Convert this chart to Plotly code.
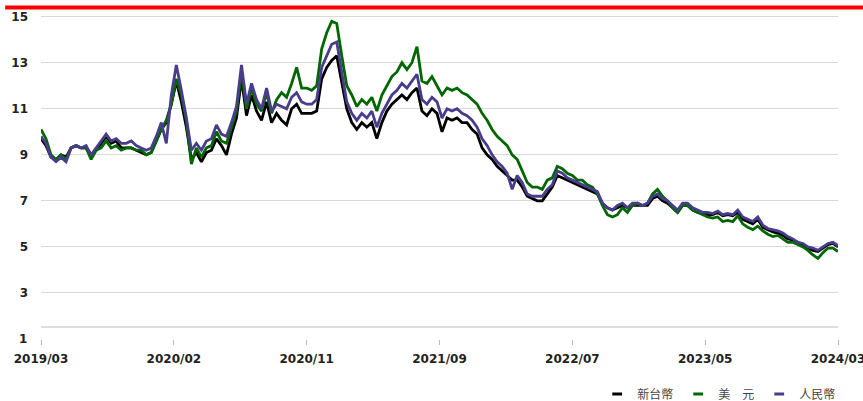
import plotly.graph_objects as go

# x index (equal spacing, category-like trading-day axis)
tick_labels = ["2019/03", "2020/02", "2020/11", "2021/09", "2022/07", "2023/05", "2024/03"]
y_tick_values = [3, 5, 7, 9, 11, 13, 15]

twd = [9.7, 9.4, 8.9, 8.8, 9.0, 8.9, 9.3, 9.4, 9.3, 9.3,
       9.0, 9.2, 9.5, 9.8, 9.5, 9.6, 9.3, 9.3, 9.3, 9.2,
       9.1, 9.0, 9.1, 9.6, 10.1, 10.4, 11.2, 12.2, 11.3, 10.2,
       8.8, 9.1, 8.7, 9.1, 9.2, 9.7, 9.4, 9.0, 9.9, 10.6,
       12.3, 10.7, 11.6, 10.9, 10.5, 11.3, 10.4, 10.8, 10.5, 10.3,
       11.0, 11.2, 10.8, 10.8, 10.8, 10.9, 12.3, 12.8, 13.1, 13.3,
       12.2, 11.0, 10.4, 10.1, 10.4, 10.2, 10.4, 9.7, 10.4, 10.9,
       11.2, 11.4, 11.6, 11.4, 11.7, 11.9, 10.9, 10.7, 11.0, 10.8,
       10.0, 10.6, 10.5, 10.6, 10.4, 10.4, 10.1, 9.9, 9.3, 9.0,
       8.8, 8.5, 8.3, 8.1, 7.9, 7.9, 7.6, 7.2, 7.1, 7.0,
       7.0, 7.3, 7.6, 8.1, 8.0, 7.9, 7.8, 7.7, 7.6, 7.5,
       7.4, 7.3, 6.9, 6.7, 6.6, 6.7, 6.8, 6.7, 6.8, 6.8,
       6.8, 6.8, 7.1, 7.2, 7.0, 6.9, 6.7, 6.5, 6.8, 6.8,
       6.6, 6.5, 6.5, 6.4, 6.4, 6.5, 6.35, 6.4, 6.35, 6.5,
       6.2, 6.1, 6.0, 6.2, 5.85, 5.75, 5.65, 5.6, 5.5, 5.35,
       5.3, 5.2, 5.1, 4.95, 4.85, 4.8, 4.95, 5.1, 5.15, 5.0]

usd = [10.1, 9.7, 9.0, 8.8, 9.0, 8.8, 9.3, 9.4, 9.3, 9.3,
       8.8, 9.2, 9.3, 9.6, 9.3, 9.4, 9.2, 9.3, 9.3, 9.2,
       9.2, 9.0, 9.1, 9.6, 10.1, 10.5, 11.2, 12.3, 11.6, 10.5,
       8.6, 9.3, 8.9, 9.3, 9.4, 10.0, 9.6, 9.5, 10.2, 10.9,
       12.6, 11.0, 11.9, 11.2, 10.9, 11.7, 10.8, 11.4, 11.7, 11.5,
       12.1, 12.8, 11.9, 11.9, 11.8, 12.0, 13.6, 14.3, 14.8, 14.7,
       13.3, 12.0, 11.6, 11.1, 11.4, 11.2, 11.5, 10.9, 11.6, 12.0,
       12.4, 12.6, 13.0, 12.7, 13.0, 13.7, 12.2, 12.1, 12.4, 12.0,
       11.6, 11.9, 11.8, 11.9, 11.7, 11.6, 11.4, 11.2, 10.8, 10.5,
       10.1, 9.8, 9.6, 9.4, 9.0, 8.8, 8.3, 7.8, 7.6, 7.6,
       7.5, 7.9, 8.0, 8.5, 8.4, 8.2, 8.1, 7.9, 7.9, 7.7,
       7.6, 7.3, 6.8, 6.4, 6.3, 6.4, 6.7, 6.5, 6.8, 6.9,
       6.8, 6.9, 7.3, 7.5, 7.2, 7.0, 6.7, 6.5, 6.8, 6.8,
       6.6, 6.5, 6.4, 6.3, 6.25, 6.3, 6.1, 6.15, 6.1, 6.35,
       6.0, 5.85, 5.75, 5.9, 5.7, 5.55, 5.45, 5.5, 5.35, 5.2,
       5.2, 5.1, 5.0, 4.85, 4.65, 4.5, 4.75, 4.95, 4.95, 4.8]

cny = [9.8, 9.5, 8.9, 8.7, 8.9, 8.7, 9.3, 9.4, 9.3, 9.4,
       9.0, 9.3, 9.6, 9.9, 9.6, 9.7, 9.5, 9.5, 9.6, 9.4,
       9.3, 9.2, 9.3, 9.8, 10.4, 9.5, 11.6, 12.9, 11.8, 10.6,
       9.2, 9.5, 9.2, 9.6, 9.7, 10.3, 9.9, 9.8, 10.4, 11.1,
       12.9, 11.2, 12.1, 11.4, 11.0, 11.9, 10.9, 11.2, 11.1, 11.0,
       11.5, 11.7, 11.3, 11.2, 11.2, 11.4, 12.8, 13.3, 13.8, 13.9,
       12.6, 11.3, 10.8, 10.5, 10.8, 10.6, 10.9, 10.2, 10.8, 11.2,
       11.6, 11.8, 12.1, 11.9, 12.2, 12.5, 11.4, 11.2, 11.5, 11.3,
       10.6, 11.0, 10.9, 11.0, 10.8, 10.7, 10.5, 10.2, 9.7, 9.4,
       9.0, 8.7, 8.5, 8.2, 7.5, 8.1, 7.8, 7.3, 7.2, 7.2,
       7.2, 7.5, 7.7, 8.3, 8.2, 8.0, 7.9, 7.8, 7.7, 7.6,
       7.5, 7.4, 6.9, 6.7, 6.6, 6.8, 6.9, 6.7, 6.9, 6.9,
       6.8, 6.9, 7.2, 7.3, 7.1, 7.0, 6.8, 6.6, 6.9, 6.9,
       6.7, 6.6, 6.5, 6.5, 6.45, 6.55, 6.4, 6.45, 6.4, 6.6,
       6.3, 6.2, 6.1, 6.3, 5.95, 5.8, 5.75, 5.7, 5.6, 5.45,
       5.35, 5.2, 5.15, 5.0, 4.95, 4.85, 5.0, 5.15, 5.2, 5.05]

series_names = ["新台幣", "美\u3000元", "人民幣"]
series_colors = ["#000000", "#006600", "#483d8b"]

x = list(range(len(twd)))
n_last = len(twd) - 1
tick_positions = [n_last * k / (len(tick_labels) - 1) for k in range(len(tick_labels))]

fig = go.Figure()
for vals, name, color in zip([twd, usd, cny], series_names, series_colors):
    fig.add_trace(go.Scatter(x=x, y=vals, mode="lines", name=name,
                             line=dict(color=color, width=2.8),
                             showlegend=False, hoverinfo="skip"))
for name, color in zip(series_names, series_colors):
    fig.add_trace(go.Scatter(x=[None], y=[None], mode="markers", name=name,
                             marker=dict(symbol="line-ew", size=7, color=color,
                                         line=dict(color=color, width=3))))

axis_font = dict(family="DejaVu Sans", size=12, color="#222222", weight="bold")

fig.update_layout(
    width=863, height=401,
    margin=dict(l=41, r=25, t=10, b=62, autoexpand=False),
    plot_bgcolor="white", paper_bgcolor="white",
    showlegend=True,
    legend=dict(orientation="h", x=1.004, xanchor="right", y=-0.167, yanchor="middle",
                font=dict(family="Noto Sans CJK TC", size=12, color="#444444"),
                bgcolor="rgba(0,0,0,0)"),
    xaxis=dict(range=[0, n_last], tickvals=tick_positions, ticktext=tick_labels,
               showgrid=False, zeroline=False, showline=False, automargin=False,
               ticks="outside", ticklen=5, tickcolor="#bbbbbb", tickwidth=1,
               tickfont=axis_font, ticklabelstandoff=4, ticklabeloverflow="allow"),
    yaxis=dict(range=[1, 15.29], tickvals=y_tick_values, automargin=False,
               showgrid=True, gridcolor="#d9d9d9", gridwidth=1,
               zeroline=False, showline=False,
               tickfont=axis_font, ticklabelstandoff=12),
    shapes=[
        dict(type="rect", xref="paper", yref="paper", x0=-0.045, x1=1.032,
             y0=1.0015, y1=1.0137, fillcolor="#ff0000", line=dict(width=0), layer="above"),
        dict(type="line", xref="paper", yref="y", x0=0, x1=1, y0=1.52, y1=1.52,
             line=dict(color="#bbbbbb", width=1), layer="below"),
    ],
    annotations=[
        dict(text="1", xref="paper", yref="y", x=0, y=1, xanchor="right", yanchor="middle",
             xshift=-12, showarrow=False, font=axis_font),
    ],
)

fig.write_html("out.html", config={"displayModeBar": False},
               post_script="document.body.style.margin='0';document.body.style.overflow='hidden';")
